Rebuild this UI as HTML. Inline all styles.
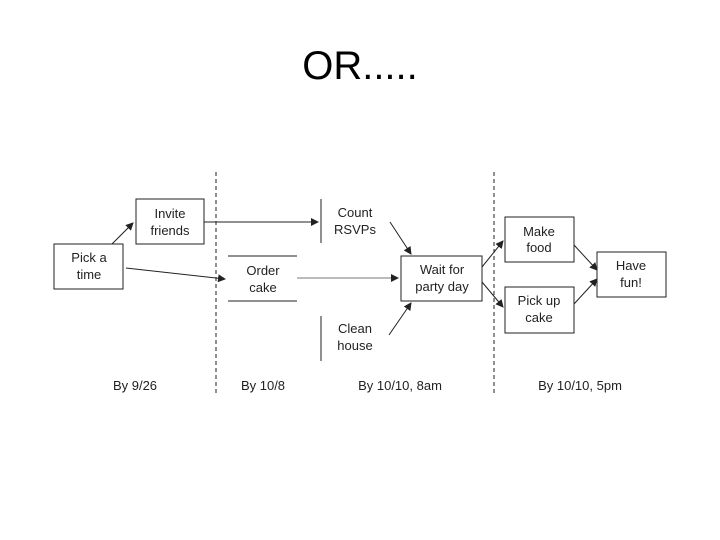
<!DOCTYPE html>
<html><head><style>
body{margin:0;width:720px;height:540px;background:#fff;overflow:hidden;position:relative;font-family:"Liberation Sans",Arial,sans-serif}
.t{position:absolute;left:0;width:720px;top:44px;text-align:center;font-size:40px;color:#000}
</style></head><body>
<div class="t">OR.....</div>
<svg width="720" height="540" style="position:absolute;left:0;top:0" font-family="Liberation Sans, Arial, sans-serif" font-size="13" fill="#222">
<defs><marker id="a" markerWidth="8" markerHeight="8" refX="7" refY="4" orient="auto" markerUnits="userSpaceOnUse"><path d="M0,0 L8,4 L0,8 z" fill="#222"/></marker></defs>
<g stroke="#222" stroke-width="1" fill="none">
<line x1="216" y1="172" x2="216" y2="395" stroke-dasharray="4,3"/>
<line x1="494" y1="172" x2="494" y2="395" stroke-dasharray="4,3"/>
<rect x="136" y="199" width="68" height="45" fill="#fff"/>
<rect x="54" y="244" width="69" height="45" fill="#fff"/>
<rect x="401" y="256" width="81" height="45"/>
<rect x="505" y="217" width="69" height="45"/>
<rect x="505" y="287" width="69" height="46"/>
<rect x="597" y="252" width="69" height="45"/>
<line x1="321" y1="199" x2="321" y2="243"/>
<line x1="321" y1="316" x2="321" y2="361"/>
<line x1="228" y1="256" x2="297" y2="256"/>
<line x1="228" y1="301" x2="297" y2="301"/>
<line x1="112" y1="244" x2="133" y2="223" marker-end="url(#a)"/>
<line x1="204" y1="222" x2="318" y2="222" marker-end="url(#a)"/>
<line x1="126" y1="268" x2="225" y2="279" marker-end="url(#a)"/>
<line x1="297" y1="278" x2="398" y2="278" stroke="#777" marker-end="url(#a)"/>
<line x1="390" y1="222" x2="411" y2="254" marker-end="url(#a)"/>
<line x1="389" y1="335" x2="411" y2="303" marker-end="url(#a)"/>
<line x1="482" y1="267" x2="503" y2="241" marker-end="url(#a)"/>
<line x1="482" y1="282" x2="503" y2="307" marker-end="url(#a)"/>
<line x1="574" y1="245" x2="597" y2="270" marker-end="url(#a)"/>
<line x1="574" y1="304" x2="597" y2="279" marker-end="url(#a)"/>
</g>
<g text-anchor="middle">
<text x="170" y="218">Invite</text><text x="170" y="235">friends</text>
<text x="89" y="262">Pick a</text><text x="89" y="279">time</text>
<text x="355" y="217">Count</text><text x="355" y="234">RSVPs</text>
<text x="263" y="275">Order</text><text x="263" y="292">cake</text>
<text x="355" y="333">Clean</text><text x="355" y="350">house</text>
<text x="442" y="274">Wait for</text><text x="442" y="291">party day</text>
<text x="539" y="236">Make</text><text x="539" y="252">food</text>
<text x="539" y="305">Pick up</text><text x="539" y="322">cake</text>
<text x="631" y="270">Have</text><text x="631" y="287">fun!</text>
<text x="135" y="390">By 9/26</text>
<text x="263" y="390">By 10/8</text>
<text x="400" y="390">By 10/10, 8am</text>
<text x="580" y="390">By 10/10, 5pm</text>
</g>
</svg>
</body></html>
